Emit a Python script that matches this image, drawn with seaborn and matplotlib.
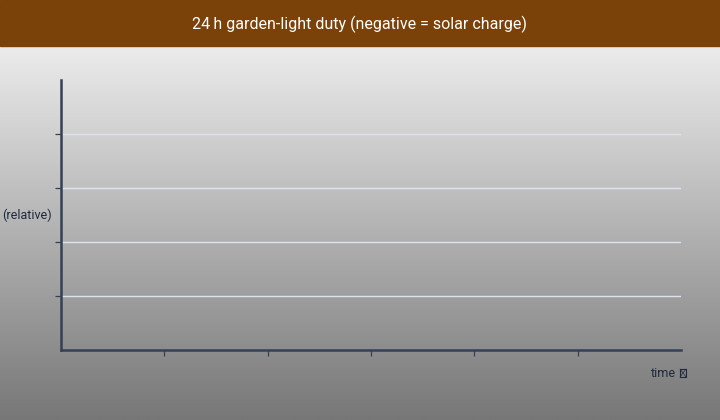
import numpy as np
import pandas as pd
import matplotlib
matplotlib.use('Agg')
import matplotlib.pyplot as plt
import seaborn as sns

# no duty samples were plotted in the reference, only the frame
hours = []
duty = []
x_ticks = [4, 8, 12, 16, 20]
y_ticks = [1, 2, 3, 4]

title = '24\u2009h garden-light duty (negative = solar charge)'
xlabel = 'time'
ylabel = '(relative)'

sns.set_theme(style='white')
plt.rcParams['font.family'] = ['Roboto', 'DejaVu Sans']

W, H = 720, 420
fig = plt.figure(figsize=(7.2, 4.2), dpi=100)

# gradient background below the title bar
bg = fig.add_axes([0, 0, 1, 1 - 46 / H], zorder=-10)
grad = np.linspace(0, 1, 256).reshape(-1, 1)
cmap = matplotlib.colors.LinearSegmentedColormap.from_list('bg', ['#ececec', '#777777'])
bg.imshow(grad, aspect='auto', cmap=cmap, extent=[0, 1, 0, 1], origin='upper')
bg.axis('off')

# title bar
fig.patches.append(plt.Rectangle((0, 1 - 46 / H), 1, 46 / H, transform=fig.transFigure,
                                 color='#7a4109', zorder=-5))
fig.text(0.5, 1 - 24 / H, title, ha='center', va='center', color='white', fontsize=11.5)

ax = fig.add_axes([61 / W, 70 / H, 620 / W, 270 / H])
ax.patch.set_alpha(0)
df = pd.DataFrame({'hour': pd.Series(hours, dtype=float), 'duty': pd.Series(duty, dtype=float)})
sns.lineplot(data=df, x='hour', y='duty', ax=ax)
ax.set_xlim(0, 24)
ax.set_ylim(0, 5)
ax.set_xticks(x_ticks)
ax.set_yticks(y_ticks)
ax.set_xticklabels([])
ax.set_yticklabels([])
ax.set_xlabel('')
ax.set_ylabel('')
for s in ['top', 'right']:
    ax.spines[s].set_visible(False)
for s in ['left', 'bottom']:
    ax.spines[s].set_color('#334155')
    ax.spines[s].set_linewidth(1.8)
ax.tick_params(axis='both', direction='out', length=4, width=0.9, color='#334155',
               bottom=True, left=True)
ax.yaxis.grid(True, color='#dde4ef', linewidth=1)
ax.xaxis.grid(False)

fig.text(27 / W, 1 - 215 / H, ylabel, ha='center', va='center', color='#1e293b', fontsize=9)
fig.text(676 / W, 1 - 377 / H, xlabel, ha='right', va='baseline', color='#1e293b', fontsize=9)

# the clock sign after "time" has no glyph in any installed font: draw the box it shows as
bx0, bx1, by0, by1 = 680 / W, 686 / W, 1 - 377 / H, 1 - 369 / H
fig.patches.append(plt.Rectangle((bx0, by0), bx1 - bx0, by1 - by0, transform=fig.transFigure,
                                 fill=False, edgecolor='#1e293b', linewidth=0.8))
fig.lines.append(plt.Line2D([bx0, bx1], [by0, by1], transform=fig.transFigure, color='#1e293b', linewidth=0.5))
fig.lines.append(plt.Line2D([bx0, bx1], [by1, by0], transform=fig.transFigure, color='#1e293b', linewidth=0.5))

fig.savefig('out.png', dpi=100)
